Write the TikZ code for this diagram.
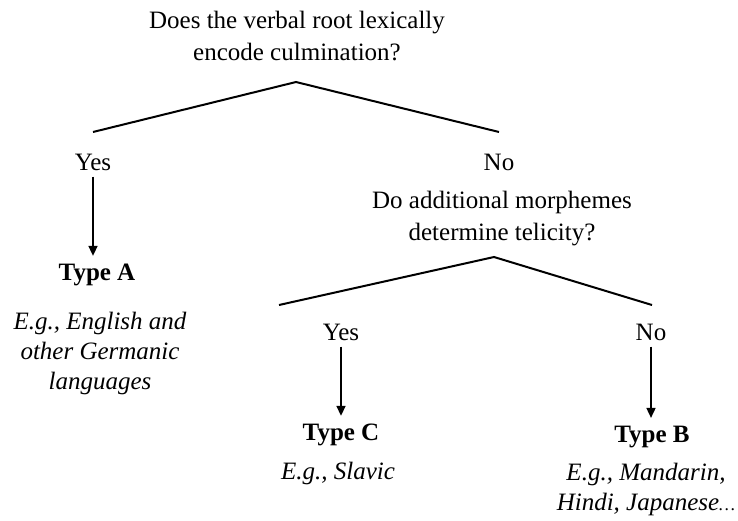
\documentclass[tikz,border=0pt]{standalone}
\usepackage{fontspec}
\setmainfont{Liberation Serif}
\usetikzlibrary{arrows.meta,positioning}
\tikzset{
        txt/.style={font=\fontsize{25}{32}\selectfont, align=center, inner sep=0pt},
        answer/.style={txt},
        typename/.style={txt, font=\fontsize{25}{32}\selectfont\bfseries},
        example/.style={txt, font=\fontsize{25}{30}\selectfont\itshape},
        branch/.style={line width=2pt},
        down/.style={line width=1.6pt, -{Triangle[length=10pt,width=9pt]}, shorten <=6pt, shorten >=8pt}
}
\begin{document}
\begin{tikzpicture}[x=1pt,y=-1pt]
        \useasboundingbox (0,0) rectangle (738,520);
        \node [txt] (root) at (297,36) {Does the verbal root lexically\\encode culmination?};
        \coordinate (rootfork) at (296,82);
        \node [answer] (yesA) at (93,162) {Yes};
        \node [answer] (noA) at (499,162) {No};
        \coordinate (yesAend) at (93,132);
        \coordinate (noAend) at (499,132);
        \draw [branch] (yesAend) -- (rootfork) -- (noAend);

        \node [typename] (typeA) at (97,275) {Type A};
        \node [example] (exA) at (100,353) {E.g., English and\\other Germanic\\languages};
        \draw [down] (yesA) -- (yesA |- typeA.north);

        \node [txt] (second) at (502,219) {Do additional morphemes\\determine telicity?};
        \coordinate (secondfork) at (494,257);
        \node [answer] (yesB) at (341,332) {Yes};
        \node [answer] (noB) at (651,332) {No};
        \coordinate (yesBend) at (279,305);
        \coordinate (noBend) at (652,305);
        \draw [branch] (yesBend) -- (secondfork) -- (noBend);

        \node [typename] (typeC) at (341,435) {Type C};
        \node [typename] (typeB) at (652,437) {Type B};
        \draw [down] (yesB) -- (yesB |- typeC.north);
        \draw [down] (noB) -- (noB |- typeB.north);

        \node [example] (exC) at (338,473) {E.g., Slavic};
        \node [example] (exB) at (646,489) {E.g., Mandarin,\\Hindi, Japanese{\fontsize{18}{18}\selectfont\ldots}};
\end{tikzpicture}
\end{document}
